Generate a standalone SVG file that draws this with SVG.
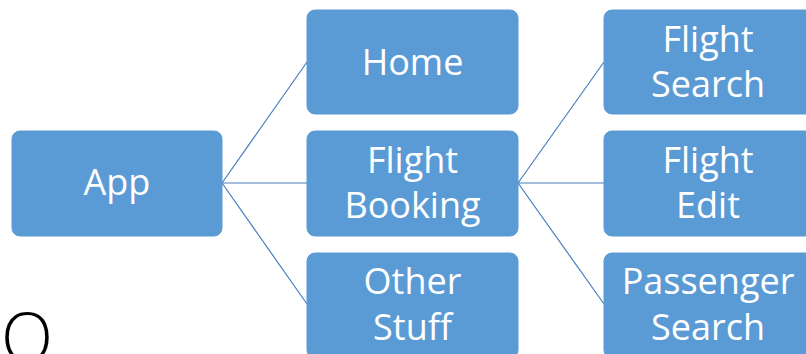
<svg xmlns="http://www.w3.org/2000/svg" width="806" height="354" viewBox="0 0 806 354">
<style>
.box{fill:#5b9bd5;stroke:#5b9bd5;stroke-width:1}
.lbl{fill:#ffffff;font-family:"Open Sans","Noto Sans",sans-serif;font-size:36px;text-anchor:middle}
.conn{stroke:#4a7ebb;stroke-width:1.2;fill:none}
</style>
<rect width="806" height="354" fill="#ffffff"/>
<g id="connectors">
<path class="conn" d="M222,183 L307,62 M222,183 L307,183 M222,183 L307,304"/>
<path class="conn" d="M518,183 L604,62 M518,183 L604,183 M518,183 L604,304"/>
</g>
<g id="app"><rect class="box" x="12" y="131" width="210" height="105" rx="8"/><text class="lbl" x="117" y="195">App</text></g>
<g id="home"><rect class="box" x="307" y="10" width="211" height="104" rx="8"/><text class="lbl" x="412.5" y="75">Home</text></g>
<g id="flight-booking"><rect class="box" x="307" y="131" width="211" height="105" rx="8"/><text class="lbl" x="412.5" y="173">Flight</text><text class="lbl" x="412.5" y="218">Booking</text></g>
<g id="other-stuff"><rect class="box" x="307" y="253" width="211" height="105" rx="8"/><text class="lbl" x="412.5" y="294">Other</text><text class="lbl" x="412.5" y="340">Stuff</text></g>
<g id="flight-search"><rect class="box" x="604" y="10" width="210" height="104" rx="8"/><text class="lbl" x="708" y="52">Flight</text><text class="lbl" x="708" y="97">Search</text></g>
<g id="flight-edit"><rect class="box" x="604" y="131" width="210" height="105" rx="8"/><text class="lbl" x="708" y="173">Flight</text><text class="lbl" x="708" y="218">Edit</text></g>
<g id="passenger-search"><rect class="box" x="604" y="253" width="210" height="105" rx="8"/><text class="lbl" x="708" y="294">Passenger</text><text class="lbl" x="708" y="340">Search</text></g>
<text x="1" y="362" font-family="'Open Sans','Noto Sans',sans-serif" font-weight="300" font-size="68" fill="#000000">O</text>
</svg>
